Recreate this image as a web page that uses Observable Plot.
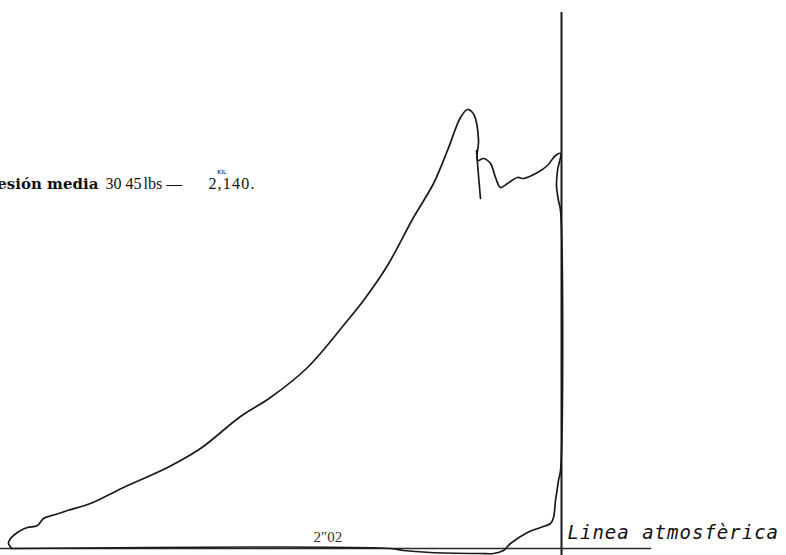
<!DOCTYPE html>
<html>
<head>
<meta charset="utf-8">
<script src="https://cdn.jsdelivr.net/npm/d3@7"></script>
<script src="https://cdn.jsdelivr.net/npm/@observablehq/plot@0.6"></script>
<style>
  html, body { margin: 0; padding: 0; background: #fff; }
  svg { display: block; }
</style>
</head>
<body>
<div id="chart"></div>
<script>
// Indicator diagram: x = % of piston stroke, y = pressure (lbs) above atmospheric line
const strokePct = [0, -0.36, -0.55, -0.18, 0.36, 1.64, 2.91, 4.73, 5.82, 8.0, 10.18, 14.36, 20.36, 28.36, 34.36, 41.64, 47.09, 53.82, 61.09, 64.0, 68.36, 73.09, 76.73, 79.27, 81.64, 82.91, 83.82, 84.36, 84.91, 84.73, 85.82, 87.09, 88.0, 88.91, 90.18, 92.0, 93.09, 95.64, 97.45, 98.91, 99.82, 99.27, 99.09, 99.45, 99.82, 99.82, 99.45, 99.27, 98.91, 98.55, 98.0, 96.18, 93.82, 90.73, 89.45, 87.64, 85.27, 76.18, 71.27, 68.91, 0];
const pressure  = [0, 0.6, 1.0, 2.0, 2.6, 3.6, 4.2, 4.6, 6.0, 6.8, 7.6, 9.0, 12.2, 16.2, 20.0, 26.4, 30.2, 36.2, 45.6, 49.6, 56.6, 66.2, 73.0, 79.6, 86.2, 87.8, 87.2, 86.0, 81.6, 77.6, 78.0, 77.0, 74.2, 72.2, 73.0, 74.2, 74.0, 75.2, 76.6, 78.6, 79.0, 75.6, 72.6, 69.6, 67.6, 15.6, 13.6, 12.2, 9.6, 6.2, 5.0, 4.2, 3.2, 1.0, -0.4, -1.0, -1.0, -0.8, -0.4, 0, 0];

// short spike below the admission peak
const spikeX = [84.55, 84.91, 85.27];
const spikeY = [79.6, 74.6, 70.0];

// atmospheric line (pressure 0) and end-of-stroke line
const atmX = [-2, 116.2];
const atmY = [0, 0];
const endStrokeX = [100];
const endStrokeY = [-1.4, 107.2];

// labels
const meanLabel = "Presión media";
const meanValue = "30 45";
const meanUnit = "lbs —";
const meanKil = "2,140.";
const kilLabel = "KIL";
const strokeLabel = "2″02";
const atmLabel = "Linea atmosfèrica";

const curve = strokePct.map((x, i) => ({x, y: pressure[i]}));
const spike = spikeX.map((x, i) => ({x, y: spikeY[i]}));
const atm = atmX.map((x, i) => ({x, y: atmY[i]}));

const plot = Plot.plot({
  width: 786,
  height: 555,
  marginTop: 0, marginRight: 0, marginBottom: 0, marginLeft: 0,
  x: {domain: [-2, 140.909], axis: null},
  y: {domain: [-1.4, 109.6], axis: null},
  style: {background: "#fff", overflow: "hidden"},
  marks: [
    Plot.line(atm, {x: "x", y: "y", stroke: "#2a2a2a", strokeWidth: 1.6}),
    Plot.ruleX(endStrokeX, {y1: endStrokeY[0], y2: endStrokeY[1], stroke: "#1a1a1a", strokeWidth: 2}),
    Plot.line(curve, {x: "x", y: "y", stroke: "#1a1a1a", strokeWidth: 1.7, curve: "catmull-rom", strokeLinejoin: "round"}),
    Plot.line(spike, {x: "x", y: "y", stroke: "#1a1a1a", strokeWidth: 1.7}),
    Plot.text([meanLabel], {x: 15.8, y: 72, text: d => d, textAnchor: "end", lineAnchor: "bottom", fontFamily: "DejaVu Serif", fontWeight: "bold", fontSize: 15, fill: "#111"}),
    Plot.text([meanValue], {x: 17.1, y: 72, text: d => d, textAnchor: "start", lineAnchor: "bottom", fontFamily: "Liberation Serif", fontSize: 16, fill: "#111"}),
    Plot.text([meanUnit], {x: 24.0, y: 72, text: d => d, textAnchor: "start", lineAnchor: "bottom", fontFamily: "Liberation Serif", fontSize: 16, fill: "#111"}),
    Plot.text([meanKil], {x: 35.8, y: 72, text: d => d, textAnchor: "start", lineAnchor: "bottom", fontFamily: "Liberation Serif", fontSize: 16, fill: "#111"}),
    Plot.text([kilLabel], {x: 37.4, y: 75.0, text: d => d, textAnchor: "start", lineAnchor: "bottom", fontFamily: "DejaVu Sans", fontSize: 6, fill: "#000"}),
    Plot.text([strokeLabel], {x: 54.9, y: 1.4, text: d => d, textAnchor: "start", lineAnchor: "bottom", fontFamily: "Liberation Serif", fontSize: 15, fill: "#333"}),
    Plot.text([atmLabel], {x: 101.1, y: 2.0, text: d => d, textAnchor: "start", lineAnchor: "bottom", fontFamily: "DejaVu Sans Mono", fontStyle: "oblique", fontSize: 19, fill: "#111"})
  ]
});
document.getElementById("chart").append(plot);
// letter spacing for the labels, as in the reference
plot.querySelectorAll("text").forEach(t => {
  if (t.textContent === atmLabel) t.setAttribute("letter-spacing", "1");
  if (t.textContent === meanKil) t.setAttribute("letter-spacing", "1.2");
});
</script>
</body>
</html>
